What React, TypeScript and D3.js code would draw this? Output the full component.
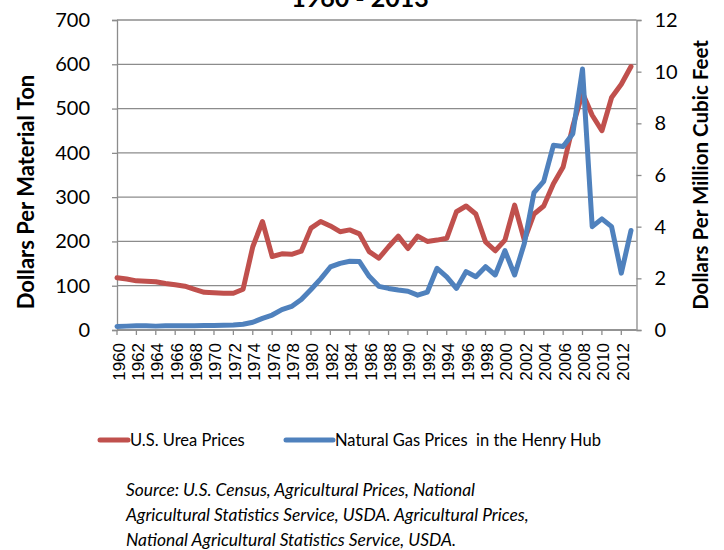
import React, { useEffect, useRef } from 'react';
import * as d3 from 'd3';

const years = [
  1960, 1961, 1962, 1963, 1964, 1965, 1966, 1967, 1968, 1969,
  1970, 1971, 1972, 1973, 1974, 1975, 1976, 1977, 1978, 1979,
  1980, 1981, 1982, 1983, 1984, 1985, 1986, 1987, 1988, 1989,
  1990, 1991, 1992, 1993, 1994, 1995, 1996, 1997, 1998, 1999,
  2000, 2001, 2002, 2003, 2004, 2005, 2006, 2007, 2008, 2009,
  2010, 2011, 2012, 2013,
];

// dollars per material ton (left axis)
const ureaPrices = [
  118, 115, 111, 110, 109, 105, 102, 99, 92, 85,
  84, 83, 83, 92, 188, 245, 166, 172, 171, 178,
  230, 245, 235, 222, 226, 217, 177, 162, 188, 212,
  184, 212, 200, 203, 207, 267, 280, 262, 199, 179,
  203, 282, 203, 262, 280, 330, 368, 460, 535, 485,
  450, 525, 555, 595,
];

// dollars per million cubic feet (right axis)
const gasPrices = [
  0.14, 0.15, 0.16, 0.16, 0.15, 0.16, 0.16, 0.16, 0.16, 0.17,
  0.17, 0.18, 0.19, 0.22, 0.30, 0.45, 0.58, 0.79, 0.91, 1.18,
  1.57, 1.98, 2.44, 2.58, 2.66, 2.65, 2.08, 1.69, 1.61, 1.55,
  1.50, 1.35, 1.47, 2.39, 2.06, 1.61, 2.26, 2.06, 2.45, 2.13,
  3.07, 2.13, 3.35, 5.32, 5.75, 7.15, 7.10, 7.60, 10.10, 4.00,
  4.30, 4.00, 2.20, 3.85,
];

const leftTicks = [0, 100, 200, 300, 400, 500, 600, 700];
const rightTicks = [0, 2, 4, 6, 8, 10, 12];
const yearLabels = years.filter((y, i) => i % 2 === 0 && y < 2013);

const seriesNames = ['U.S. Urea Prices', 'Natural Gas Prices  in the Henry Hub'];
const sourceLines = [
  'Source: U.S. Census, Agricultural Prices, National',
  'Agricultural Statistics Service, USDA. Agricultural Prices,',
  'National Agricultural Statistics Service, USDA.',
];

const RED = '#C0504D';
const BLUE = '#4F81BD';
const GRID = '#8c8c8c';
const FONT = 'Lato, "Open Sans", sans-serif';

function draw(node: SVGSVGElement) {
  const svg = d3.select(node);
  svg.selectAll('*').remove();

  const left = 117, right = 636.5, top = 20, bottom = 330;
  const dataRight = 631;

  const x = d3.scaleLinear().domain([1960, 2013]).range([left, dataRight]);
  const yL = d3.scaleLinear().domain([0, 700]).range([bottom, top]);
  const yR = d3.scaleLinear().domain([0, 12]).range([bottom, top]);

  // gridlines
  svg.append('g')
     .selectAll('line')
     .data(leftTicks)
     .join('line')
     .attr('x1', left).attr('x2', right)
     .attr('y1', d => yL(d)).attr('y2', d => yL(d))
     .attr('stroke', GRID).attr('stroke-width', 1.3);

  // left axis
  const gl = svg.append('g').attr('transform', `translate(${left},0)`);
  gl.call(d3.axisLeft(yL).tickValues(leftTicks).tickSize(5).tickPadding(22).tickFormat(d3.format('d')));
  gl.select('.domain').attr('stroke', GRID).attr('stroke-width', 1.3);
  gl.selectAll('.tick line').attr('stroke', GRID).attr('stroke-width', 1.3);
  gl.selectAll('.tick text').attr('font-family', FONT).attr('font-size', 20).attr('fill', '#000');

  // right axis
  const gr = svg.append('g').attr('transform', `translate(${right},0)`);
  gr.call(d3.axisRight(yR).tickValues(rightTicks).tickSize(5).tickPadding(13).tickFormat(d3.format('d')));
  gr.select('.domain').attr('stroke', GRID).attr('stroke-width', 1.3);
  gr.selectAll('.tick line').attr('stroke', GRID).attr('stroke-width', 1.3);
  gr.selectAll('.tick text').attr('font-family', FONT).attr('font-size', 20).attr('fill', '#000');

  // bottom axis
  const gb = svg.append('g').attr('transform', `translate(0,${bottom})`);
  gb.append('line')
    .attr('x1', left).attr('x2', right)
    .attr('stroke', GRID).attr('stroke-width', 1.3);
  gb.selectAll('line.tk')
    .data(yearLabels)
    .join('line')
    .attr('class', 'tk')
    .attr('x1', d => x(d)).attr('x2', d => x(d))
    .attr('y1', 0).attr('y2', 5)
    .attr('stroke', GRID).attr('stroke-width', 1.3);
  gb.selectAll('text')
    .data(yearLabels)
    .join('text')
    .attr('transform', d => `translate(${x(d) + 7.5},13) rotate(-90)`)
    .attr('text-anchor', 'end')
    .attr('font-family', '"Liberation Sans", Arial, sans-serif')
    .attr('font-size', 17)
    .text(d => d);

  // lines
  const lineL = d3.line<number>().x((d, i) => x(years[i])).y(d => yL(d));
  const lineR = d3.line<number>().x((d, i) => x(years[i])).y(d => yR(d));

  svg.append('path')
     .datum(ureaPrices)
     .attr('d', lineL)
     .attr('fill', 'none').attr('stroke', RED)
     .attr('stroke-width', 5).attr('stroke-linejoin', 'round').attr('stroke-linecap', 'round');

  svg.append('path')
     .datum(gasPrices)
     .attr('d', lineR)
     .attr('fill', 'none').attr('stroke', BLUE)
     .attr('stroke-width', 5).attr('stroke-linejoin', 'round').attr('stroke-linecap', 'round');

  // title (cut off at the top, as in the original)
  svg.append('text')
     .attr('x', 360).attr('y', 7)
     .attr('text-anchor', 'middle')
     .attr('font-family', FONT).attr('font-weight', 'bold').attr('font-size', 25)
     .text('1960 - 2013');

  // axis titles
  svg.append('text')
     .attr('transform', 'translate(34,192) rotate(-90)')
     .attr('text-anchor', 'middle')
     .attr('font-family', FONT).attr('font-weight', 'bold').attr('font-size', 22)
     .text('Dollars Per Material Ton');

  svg.append('text')
     .attr('transform', 'translate(708,175) rotate(-90)')
     .attr('text-anchor', 'middle')
     .attr('font-family', FONT).attr('font-weight', 'bold').attr('font-size', 20.5)
     .text('Dollars Per Million Cubic Feet');

  // legend
  const legendPos = [{ x1: 100, x2: 128, c: RED }, { x1: 286, x2: 333, c: BLUE }];
  const lg = svg.append('g');
  lg.selectAll('line')
    .data(legendPos)
    .join('line')
    .attr('x1', d => d.x1).attr('x2', d => d.x2)
    .attr('y1', 440).attr('y2', 440)
    .attr('stroke', d => d.c).attr('stroke-width', 5).attr('stroke-linecap', 'round');
  lg.selectAll('text')
    .data(seriesNames)
    .join('text')
    .attr('x', (d, i) => legendPos[i].x2 + 2)
    .attr('y', 440)
    .attr('dy', '0.35em')
    .attr('font-family', FONT).attr('font-size', 16.5)
    .style('white-space', 'pre')
    .text(d => d);

  // source note
  svg.append('g')
     .selectAll('text')
     .data(sourceLines)
     .join('text')
     .attr('x', 126)
     .attr('y', (d, i) => 490 + i * 25)
     .attr('dy', '0.35em')
     .attr('font-family', FONT).attr('font-style', 'italic').attr('font-size', 17.4)
     .text(d => d);
}

export default function App() {
  const ref = useRef<SVGSVGElement>(null);

  useEffect(() => {
    if (ref.current) draw(ref.current);
  }, []);

  return (
    <svg ref={ref} width={724} height={550}
         style={{ position: 'absolute', left: 0, top: 0, background: '#fff' }} />
  );
}
